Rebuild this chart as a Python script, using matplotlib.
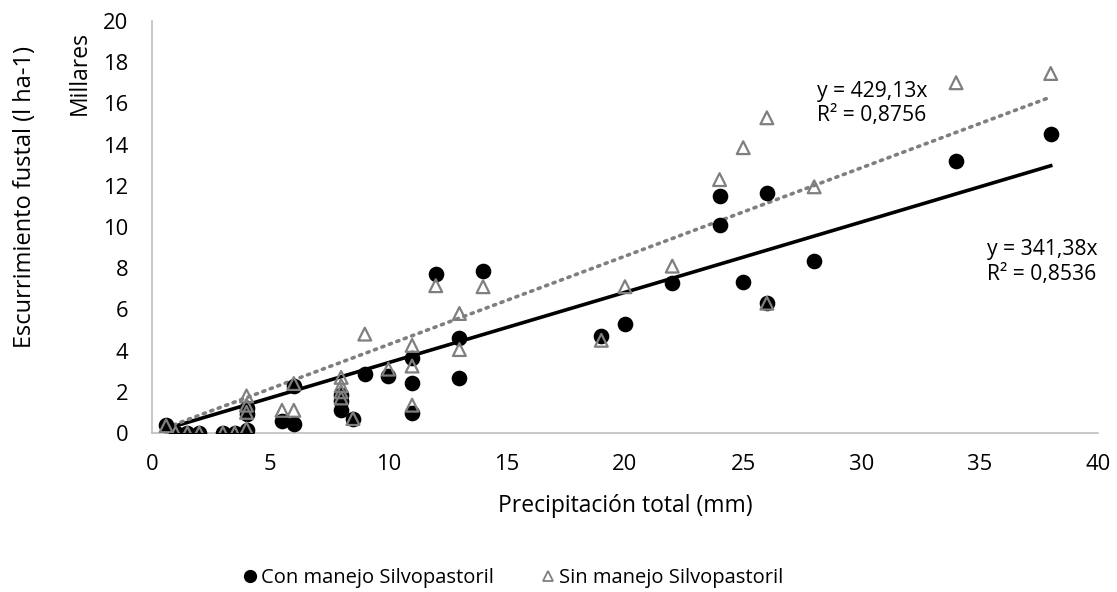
import numpy as np
import matplotlib.pyplot as plt
from matplotlib.lines import Line2D

plt.rcParams['font.family'] = ['Open Sans', 'DejaVu Sans']

# Precipitation (mm) and stemflow (l ha-1) for each treatment
precip_con = [0.6, 1, 1.5, 2, 3, 3.5, 4, 4, 4, 5.5, 6, 6, 8, 8, 8, 8.5, 9, 10,
              11, 11, 11, 12, 13, 13, 14, 19, 20, 22, 24, 24, 25, 26, 26, 28, 34, 38]
flow_con = [400, 0, 0, 0, 0, 0, 150, 900, 1200, 600, 450, 2300, 1100, 1550, 1850,
            700, 2850, 2750, 950, 2450, 3650, 7700, 2650, 4600, 7850, 4700, 5300,
            7300, 10100, 11500, 7350, 6300, 11650, 8350, 13200, 14500]

precip_sin = [0.6, 1, 1.5, 2, 3, 3.5, 4, 4, 4, 4, 5.5, 6, 6, 8, 8, 8, 8, 8.5, 9, 10,
              11, 11, 11, 12, 13, 13, 14, 19, 20, 22, 24, 25, 26, 26, 28, 34, 38]
flow_sin = [350, 0, 0, 0, 0, 0, 200, 1000, 1350, 1800, 1100, 1100, 2400, 1700, 2000,
            2300, 2700, 700, 4800, 3100, 1350, 3250, 4250, 7150, 4050, 5800, 7100,
            4500, 7100, 8100, 12300, 13850, 6300, 15300, 11950, 17000, 17450]

# Linear fits through the origin (slope in l ha-1 per mm)
slope_con, r2_con = 341.38, 0.8536
slope_sin, r2_sin = 429.13, 0.8756

labels = ['Con manejo Silvopastoril', 'Sin manejo Silvopastoril']
y_ticks = np.arange(0, 21, 2)
x_ticks = np.arange(0, 41, 5)

grey = '#7f7f7f'

fig = plt.figure(figsize=(11.17, 5.92), dpi=100)
ax = fig.add_axes([0.136, 0.2686, 0.847, 0.696])

# values are shown in thousands ("Millares")
xc = np.array(precip_con)
yc = np.array(flow_con) / 1000
xs = np.array(precip_sin)
ys = np.array(flow_sin) / 1000

ax.scatter(xc, yc, s=105, color='black', zorder=3)
ax.scatter(xs, ys, s=85, marker='^', facecolors='none', edgecolors=grey,
           linewidths=1.6, zorder=4)

# trendlines
xl = np.array([min(precip_con), max(precip_con)])
ax.plot(xl, slope_con * xl / 1000, color='black', lw=2.6, zorder=2)
xl2 = np.array([min(precip_sin), max(precip_sin)])
ax.plot(xl2, slope_sin * xl2 / 1000, color=grey, lw=2.6, ls=(0, (0.6, 1.6)),
        dash_capstyle='round', zorder=2)

def fmt(v, nd):
    return f'{v:.{nd}f}'.replace('.', ',')

ax.text(28.1, 16.0, f'y = {fmt(slope_sin, 2)}x\nR² = {fmt(r2_sin, 4)}',
        fontsize=15.2, linespacing=1.2, va='center', ha='left')
ax.text(35.3, 8.3, f'y = {fmt(slope_con, 2)}x\nR² = {fmt(r2_con, 4)}',
        fontsize=15.2, linespacing=1.2, va='center', ha='left')

ax.set_xlim(0, 40)
ax.set_ylim(0, 20)
ax.set_xticks(x_ticks)
ax.set_yticks(y_ticks)
ax.tick_params(length=0, labelsize=15.8)
ax.tick_params(axis='x', pad=15)
ax.tick_params(axis='y', pad=17)
for s in ['top', 'right']:
    ax.spines[s].set_visible(False)
for s in ['left', 'bottom']:
    ax.spines[s].set_color('#bfbfbf')
    ax.spines[s].set_linewidth(1.2)

ax.set_xlabel('Precipitación total (mm)', fontsize=16.5, labelpad=14)
fig.text(0.022, 0.667, 'Escurrimiento fustal (l ha-1)', rotation=90,
         fontsize=17, va='center', ha='center')
fig.text(0.0716, 0.877, 'Millares', rotation=90, fontsize=16.5,
         va='center', ha='center')

handles = [Line2D([], [], marker='o', ls='none', color='black', markersize=8.5),
           Line2D([], [], marker='^', ls='none', markerfacecolor='none',
                  markeredgecolor=grey, markeredgewidth=1.3, markersize=7)]
fig.legend(handles, labels, loc='center', ncol=2, frameon=False,
           fontsize=14.5, bbox_to_anchor=(0.458, 0.024), handletextpad=0.05,
           columnspacing=2.2, handlelength=1.0)

fig.savefig('out.png', dpi=100)
